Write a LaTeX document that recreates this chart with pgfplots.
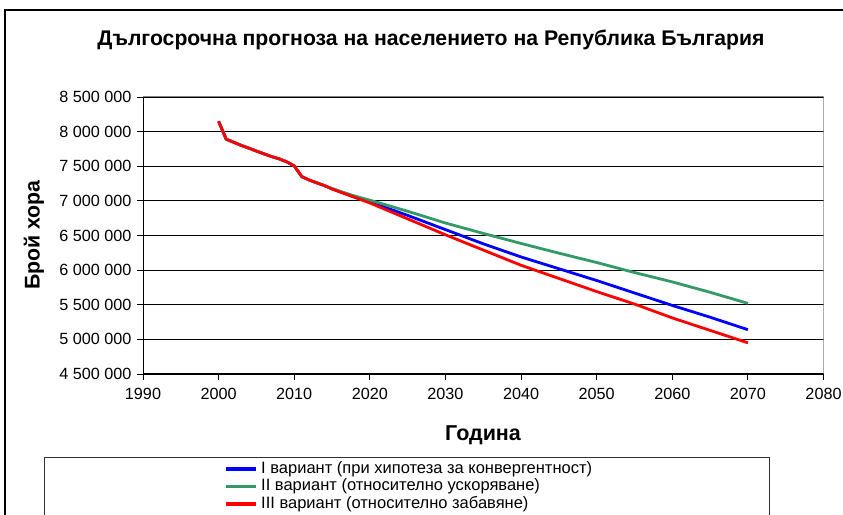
\documentclass[border=0pt]{standalone}
\usepackage{fontspec}
\setmainfont{Liberation Sans}
\usepackage{pgfplots}
\pgfplotsset{compat=1.18}
\definecolor{sgreen}{HTML}{339966}
\begin{document}
\begin{tikzpicture}[x=1bp,y=1bp]
\useasboundingbox (0,0) rectangle (843,515);
\draw[line width=1.3bp] (5,-20) -- (5,505) -- (870,505);
\node[font=\fontsize{21.2bp}{24bp}\selectfont\bfseries] at (431,475) {Дългосрочна прогноза на населението на Република България};
\node[font=\fontsize{21.5bp}{24bp}\selectfont\bfseries] at (483,80) {Година};
\node[font=\fontsize{21.3bp}{24bp}\selectfont\bfseries, rotate=90] at (34,280) {Брой хора};
\draw[line width=1bp, black!80] (44,-20) -- (44,57) -- (769,57) -- (769,-20);
\begin{axis}[
  at={(143bp,141bp)}, anchor=south west, scale only axis,
  width=680.5bp, height=277bp,
  xmin=1990, xmax=2080, ymin=4500000, ymax=8500000,
  xtick={1990,2000,2010,2020,2030,2040,2050,2060,2070,2080},
  ytick={4500000,5000000,5500000,6000000,6500000,7000000,7500000,8000000,8500000},
  scaled y ticks=false,
  axis x line*=bottom, axis y line*=left,
  axis line style={black, line width=1bp},
  tick style={black, line width=0.9bp},
  major tick length=6bp, tick align=outside,
  ymajorgrids, major grid style={black, line width=0.9bp},
  /pgf/number format/assume math mode=true,
  xticklabel style={font=\fontsize{16.2bp}{19bp}\selectfont, yshift=-5bp, /pgf/number format/.cd, 1000 sep={}},
  yticklabel style={font=\fontsize{16.2bp}{19bp}\selectfont, xshift=-2bp, /pgf/number format/.cd, fixed, precision=0, 1000 sep={\ }},
  legend style={at={(0.119,-0.311)}, anchor=north west, draw=none, fill=none,
    font=\fontsize{16.5bp}{18bp}\selectfont, inner sep=0pt, row sep=0pt, column sep=3bp,
    nodes={inner sep=0.5bp, text height=12.5bp, text depth=4bp}},
  legend cell align=left,
  legend image code/.code={\draw[#1, line width=3.5bp] (0bp,0bp) -- (30bp,0bp);},
]
\draw[gray, line width=1bp] (rel axis cs:0,1) -- (rel axis cs:1,1) -- (rel axis cs:1,0);
\addplot[blue, line width=2.8bp, line join=round] coordinates {
(2000,8149000) (2001,7891000) (2002,7846000) (2003,7801000) (2004,7761000)
(2005,7719000) (2006,7679000) (2007,7640000) (2008,7607000) (2009,7564000)
(2010,7505000) (2011,7350000) (2012,7300000) (2013,7260000) (2014,7220000)
(2015,7175000) (2016,7135000) (2017,7095000) (2018,7055000) (2019,7020000)
(2020,6985000) (2025,6790000) (2030,6585000) (2035,6380000) (2040,6190000)
(2045,6020000) (2050,5850000) (2055,5670000) (2060,5490000) (2065,5320000)
(2070,5140000)};
\addlegendentry{I вариант (при хипотеза за конвергентност)}
\addplot[sgreen, line width=2.8bp, line join=round] coordinates {
(2000,8149000) (2001,7891000) (2002,7846000) (2003,7801000) (2004,7761000)
(2005,7719000) (2006,7679000) (2007,7640000) (2008,7607000) (2009,7564000)
(2010,7505000) (2011,7350000) (2012,7300000) (2013,7260000) (2014,7220000)
(2015,7180000) (2016,7140000) (2017,7105000) (2018,7070000) (2019,7040000)
(2020,7010000) (2025,6850000) (2030,6680000) (2035,6530000) (2040,6385000)
(2045,6245000) (2050,6110000) (2055,5965000) (2060,5830000) (2065,5680000)
(2070,5520000)};
\addlegendentry{II вариант (относително ускоряване)}
\addplot[red, line width=2.8bp, line join=round] coordinates {
(2000,8149000) (2001,7891000) (2002,7846000) (2003,7801000) (2004,7761000)
(2005,7719000) (2006,7679000) (2007,7640000) (2008,7607000) (2009,7564000)
(2010,7505000) (2011,7350000) (2012,7300000) (2013,7260000) (2014,7220000)
(2015,7170000) (2016,7130000) (2017,7090000) (2018,7050000) (2019,7010000)
(2020,6970000) (2025,6740000) (2030,6510000) (2035,6290000) (2040,6070000)
(2045,5880000) (2050,5690000) (2055,5510000) (2060,5310000) (2065,5130000)
(2070,4950000)};
\addlegendentry{III вариант (относително забавяне)}
\end{axis}
\end{tikzpicture}
\end{document}
